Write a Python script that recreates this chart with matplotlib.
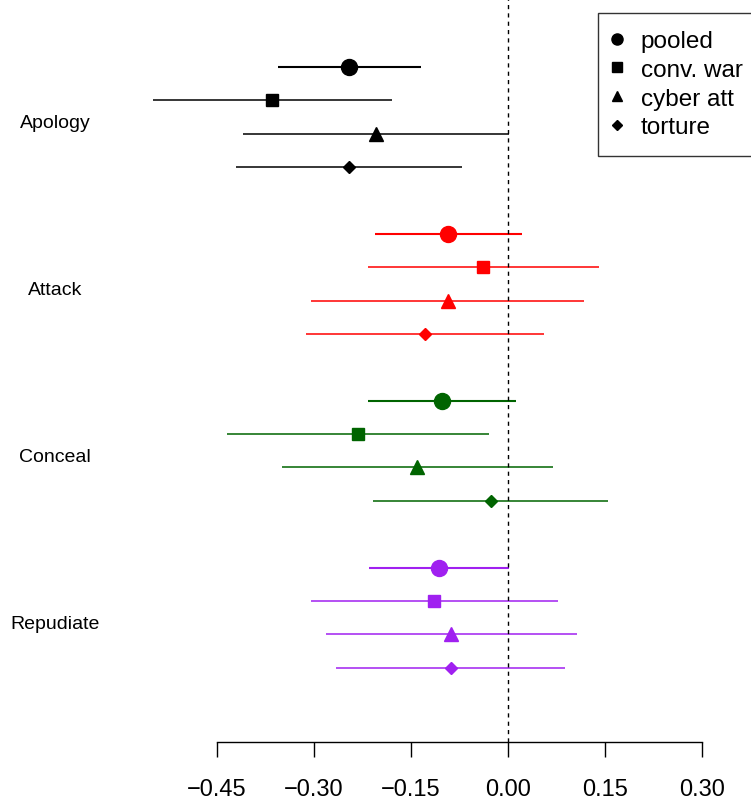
import matplotlib
matplotlib.use("Agg")
import matplotlib.pyplot as plt
from matplotlib.lines import Line2D

plt.rcParams['font.family'] = ['Liberation Sans', 'DejaVu Sans']

groups = ["Apology", "Attack", "Conceal", "Repudiate"]
models = ["pooled", "conv. war", "cyber att", "torture"]

# point estimates, rows = groups, cols = models
est = [[-0.246, -0.365, -0.204, -0.246],
       [-0.093, -0.039, -0.093, -0.128],
       [-0.102, -0.232, -0.141, -0.026],
       [-0.107, -0.114, -0.088, -0.088]]
lo = [[-0.355, -0.549, -0.409, -0.420],
      [-0.205, -0.216, -0.304, -0.312],
      [-0.216, -0.434, -0.349, -0.209],
      [-0.215, -0.304, -0.281, -0.266]]
hi = [[-0.134, -0.179, 0.002, -0.071],
      [0.022, 0.141, 0.118, 0.056],
      [0.013, -0.029, 0.070, 0.155],
      [0.002, 0.077, 0.107, 0.088]]
xticks = [-0.45, -0.30, -0.15, 0.00, 0.15, 0.30]

colors = ["black", "#FF0000", "#006400", "#A020F0"]
markers = ["o", "s", "^", "D"]
msizes = [11.5, 8, 9.8, 6.3]
lwidths = [1.5, 1.1, 1.1, 1.1]

fig = plt.figure(figsize=(7.51, 8.04), dpi=100)
ax = fig.add_axes([0, 60.7 / 804, 1, 743.3 / 804])

for g in range(len(groups)):
    for m in range(len(models)):
        y = g * 5 + m
        ax.plot([lo[g][m], hi[g][m]], [y, y], color=colors[g], lw=lwidths[m],
                solid_capstyle='butt')
        ax.plot(est[g][m], y, marker=markers[m], ms=msizes[m], color=colors[g],
                ls='none')
    ax.text(-0.700, g * 5 + 1.8, groups[g], ha='center', va='baseline', fontsize=14)

ax.axvline(0, color='black', lw=1.0, ls=(0, (3, 3)))

ax.set_xlim(-0.785, 0.3757)
ax.set_ylim(20.23, -2.03)

ax.set_xticks(xticks)
ax.set_xticklabels([f"{t:.2f}".replace("-", "\u2212") for t in xticks])
ax.tick_params(axis='x', length=10.8, width=1.0, pad=15, labelsize=17)
ax.set_yticks([])
for s in ['top', 'right', 'left']:
    ax.spines[s].set_visible(False)
ax.spines['bottom'].set_bounds(-0.45, 0.30)
ax.spines['bottom'].set_linewidth(1.0)

handles = [Line2D([], [], marker=markers[i], color='black', ls='none',
                  ms=[8, 6.5, 7.5, 4.8][i]) for i in range(4)]
leg = fig.legend(handles, models, loc='upper left',
                 bbox_to_anchor=(598 / 751, 1 - 14 / 804), fontsize=17.5,
                 frameon=True, fancybox=False, edgecolor='black',
                 handlelength=0.2, handletextpad=0.85, labelspacing=0.28,
                 borderpad=0.7, borderaxespad=0)
leg.get_frame().set_linewidth(1.0)

fig.savefig("out.png", dpi=100)
